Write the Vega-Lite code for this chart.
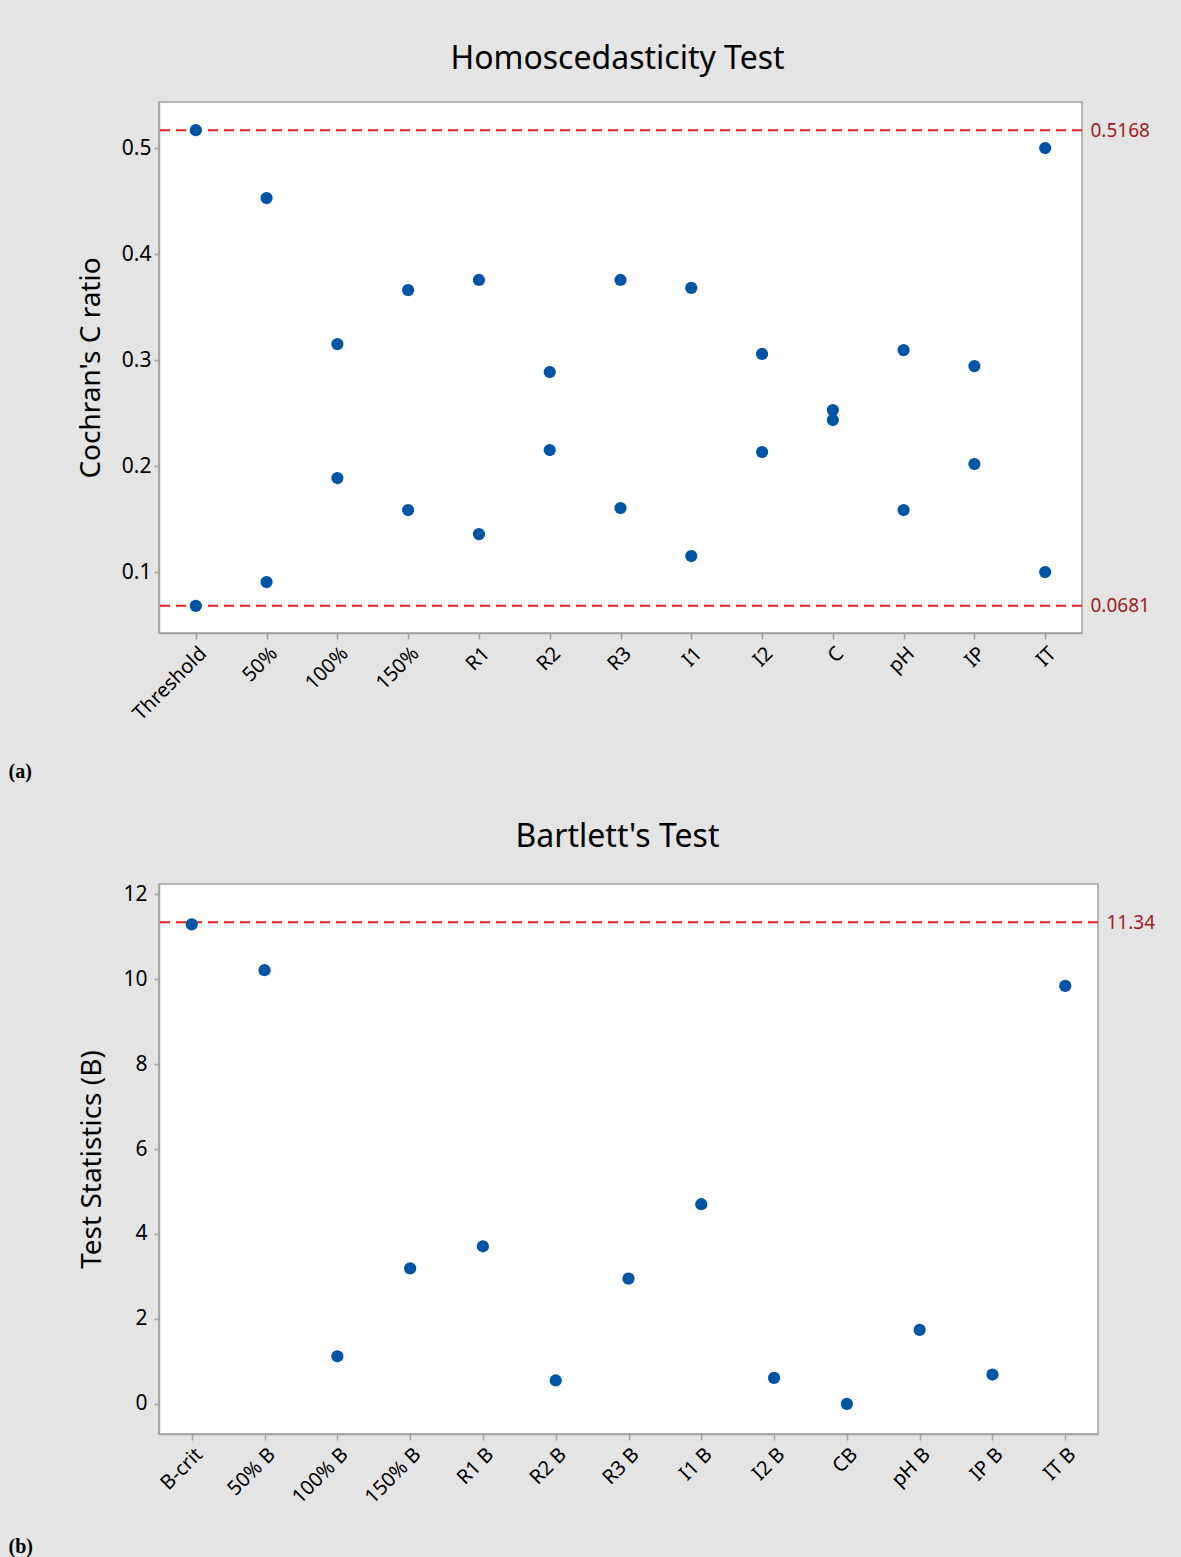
{
  "$schema": "https://vega.github.io/schema/vega-lite/v6.json",
  "background": "#e4e4e4",
  "padding": {"left": 7, "top": 42, "right": 26, "bottom": 0},
  "spacing": 38,
  "columns": 1,
  "align": "none",
  "config": {
    "view": {"fill": "white", "stroke": "#a0a0a0", "strokeWidth": 1.5},
    "font": "Noto Sans",
    "axis": {"labelColor": "black", "titleColor": "black", "grid": false, "domainColor": "#a0a0a0", "domainWidth": 1.5, "tickColor": "#a0a0a0", "tickWidth": 1.5}
  },
  "datasets": {
    "cochran": [
      {"group": "Threshold", "value": 0.5168}, {"group": "Threshold", "value": 0.0681},
      {"group": "50%", "value": 0.4528}, {"group": "50%", "value": 0.0906},
      {"group": "100%", "value": 0.315}, {"group": "100%", "value": 0.1887},
      {"group": "150%", "value": 0.366}, {"group": "150%", "value": 0.1585},
      {"group": "R1", "value": 0.3755}, {"group": "R1", "value": 0.1358},
      {"group": "R2", "value": 0.2887}, {"group": "R2", "value": 0.2151},
      {"group": "R3", "value": 0.3755}, {"group": "R3", "value": 0.1604},
      {"group": "I1", "value": 0.368}, {"group": "I1", "value": 0.1151},
      {"group": "I2", "value": 0.3057}, {"group": "I2", "value": 0.2132},
      {"group": "C", "value": 0.2528}, {"group": "C", "value": 0.2434},
      {"group": "pH", "value": 0.3094}, {"group": "pH", "value": 0.1585},
      {"group": "IP", "value": 0.2943}, {"group": "IP", "value": 0.2019},
      {"group": "IT", "value": 0.5}, {"group": "IT", "value": 0.1}
    ],
    "cochranLimits": [{"limit": 0.5168}, {"limit": 0.0681}],
    "bartlett": [
      {"group": "B-crit", "value": 11.29},
      {"group": "50% B", "value": 10.21},
      {"group": "100% B", "value": 1.12},
      {"group": "150% B", "value": 3.19},
      {"group": "R1 B", "value": 3.71},
      {"group": "R2 B", "value": 0.55},
      {"group": "R3 B", "value": 2.95},
      {"group": "I1 B", "value": 4.7},
      {"group": "I2 B", "value": 0.61},
      {"group": "CB", "value": 0.0},
      {"group": "pH B", "value": 1.74},
      {"group": "IP B", "value": 0.69},
      {"group": "IT B", "value": 9.84}
    ],
    "bartlettLimits": [{"limit": 11.34}]
  },
  "concat": [
    {
      "width": 923,
      "height": 531,
      "title": {"text": "Homoscedasticity Test", "fontSize": 32, "fontWeight": "normal", "font": "Noto Sans", "color": "black", "offset": 26, "anchor": "middle", "dx": -3},
      "layer": [
        {
          "data": {"name": "cochranLimits"},
          "mark": {"type": "rule", "color": "#e8201c", "strokeDash": [10, 6], "strokeWidth": 2},
          "encoding": {
            "y": {"field": "limit", "type": "quantitative",
              "scale": {"domain": [0.0425, 0.5434], "nice": false, "zero": false},
              "axis": {"orient": "right", "values": [0.0681, 0.5168], "format": ".4f", "title": null, "domain": false, "ticks": false, "tickSize": 0, "labelPadding": 8, "labelColor": "#9e1b1b", "labelFontSize": 19}}
          }
        },
        {
          "data": {"name": "cochran"},
          "mark": {"type": "circle", "size": 150, "color": "#0054a6", "opacity": 1},
          "encoding": {
            "x": {"field": "group", "type": "nominal", "sort": null,
              "scale": {"type": "point", "padding": 0.52},
              "axis": {"title": "(a)", "titleX": -151, "titleY": 138, "titleAlign": "left", "titleBaseline": "middle", "titleAngle": 0, "titleFont": "Liberation Serif", "titleFontSize": 20, "titleFontWeight": "bold", "labelAngle": -45, "labelFontSize": 20, "tickSize": 6, "labelPadding": 4}},
            "y": {"field": "value", "type": "quantitative",
              "scale": {"domain": [0.0425, 0.5434], "nice": false, "zero": false},
              "axis": {"orient": "left", "values": [0.1, 0.2, 0.3, 0.4, 0.5], "format": ".1f", "title": "Cochran's C ratio", "titleFontSize": 28, "titleFontWeight": "normal", "titlePadding": 16, "labelFontSize": 21, "tickSize": 5, "labelPadding": 3}}
          }
        }
      ],
      "resolve": {"axis": {"y": "independent"}}
    },
    {
      "width": 939,
      "height": 550,
      "title": {"text": "Bartlett's Test", "fontSize": 32, "fontWeight": "normal", "font": "Noto Sans", "color": "black", "offset": 29, "anchor": "middle", "dx": -11},
      "layer": [
        {
          "data": {"name": "bartlettLimits"},
          "mark": {"type": "rule", "color": "#e8201c", "strokeDash": [10, 6], "strokeWidth": 2},
          "encoding": {
            "y": {"field": "limit", "type": "quantitative",
              "scale": {"domain": [-0.71, 12.24], "nice": false, "zero": false},
              "axis": {"orient": "right", "values": [11.34], "format": ".2f", "title": null, "domain": false, "ticks": false, "tickSize": 0, "labelPadding": 8, "labelColor": "#9e1b1b", "labelFontSize": 19}}
          }
        },
        {
          "data": {"name": "bartlett"},
          "mark": {"type": "circle", "size": 150, "color": "#0054a6", "opacity": 1},
          "encoding": {
            "x": {"field": "group", "type": "nominal", "sort": null,
              "scale": {"type": "point", "padding": 0.45},
              "axis": {"title": "(b)", "titleX": -151, "titleY": 112, "titleAlign": "left", "titleBaseline": "middle", "titleAngle": 0, "titleFont": "Liberation Serif", "titleFontSize": 20, "titleFontWeight": "bold", "labelAngle": -45, "labelFontSize": 20, "tickSize": 6, "labelPadding": 4}},
            "y": {"field": "value", "type": "quantitative",
              "scale": {"domain": [-0.71, 12.24], "nice": false, "zero": false},
              "axis": {"orient": "left", "values": [0, 2, 4, 6, 8, 10, 12], "format": "d", "title": "Test Statistics (B)", "titleFontSize": 28, "titleFontWeight": "normal", "titlePadding": 16, "labelFontSize": 21, "tickSize": 5, "labelPadding": 7}}
          }
        }
      ],
      "resolve": {"axis": {"y": "independent"}}
    }
  ]
}
